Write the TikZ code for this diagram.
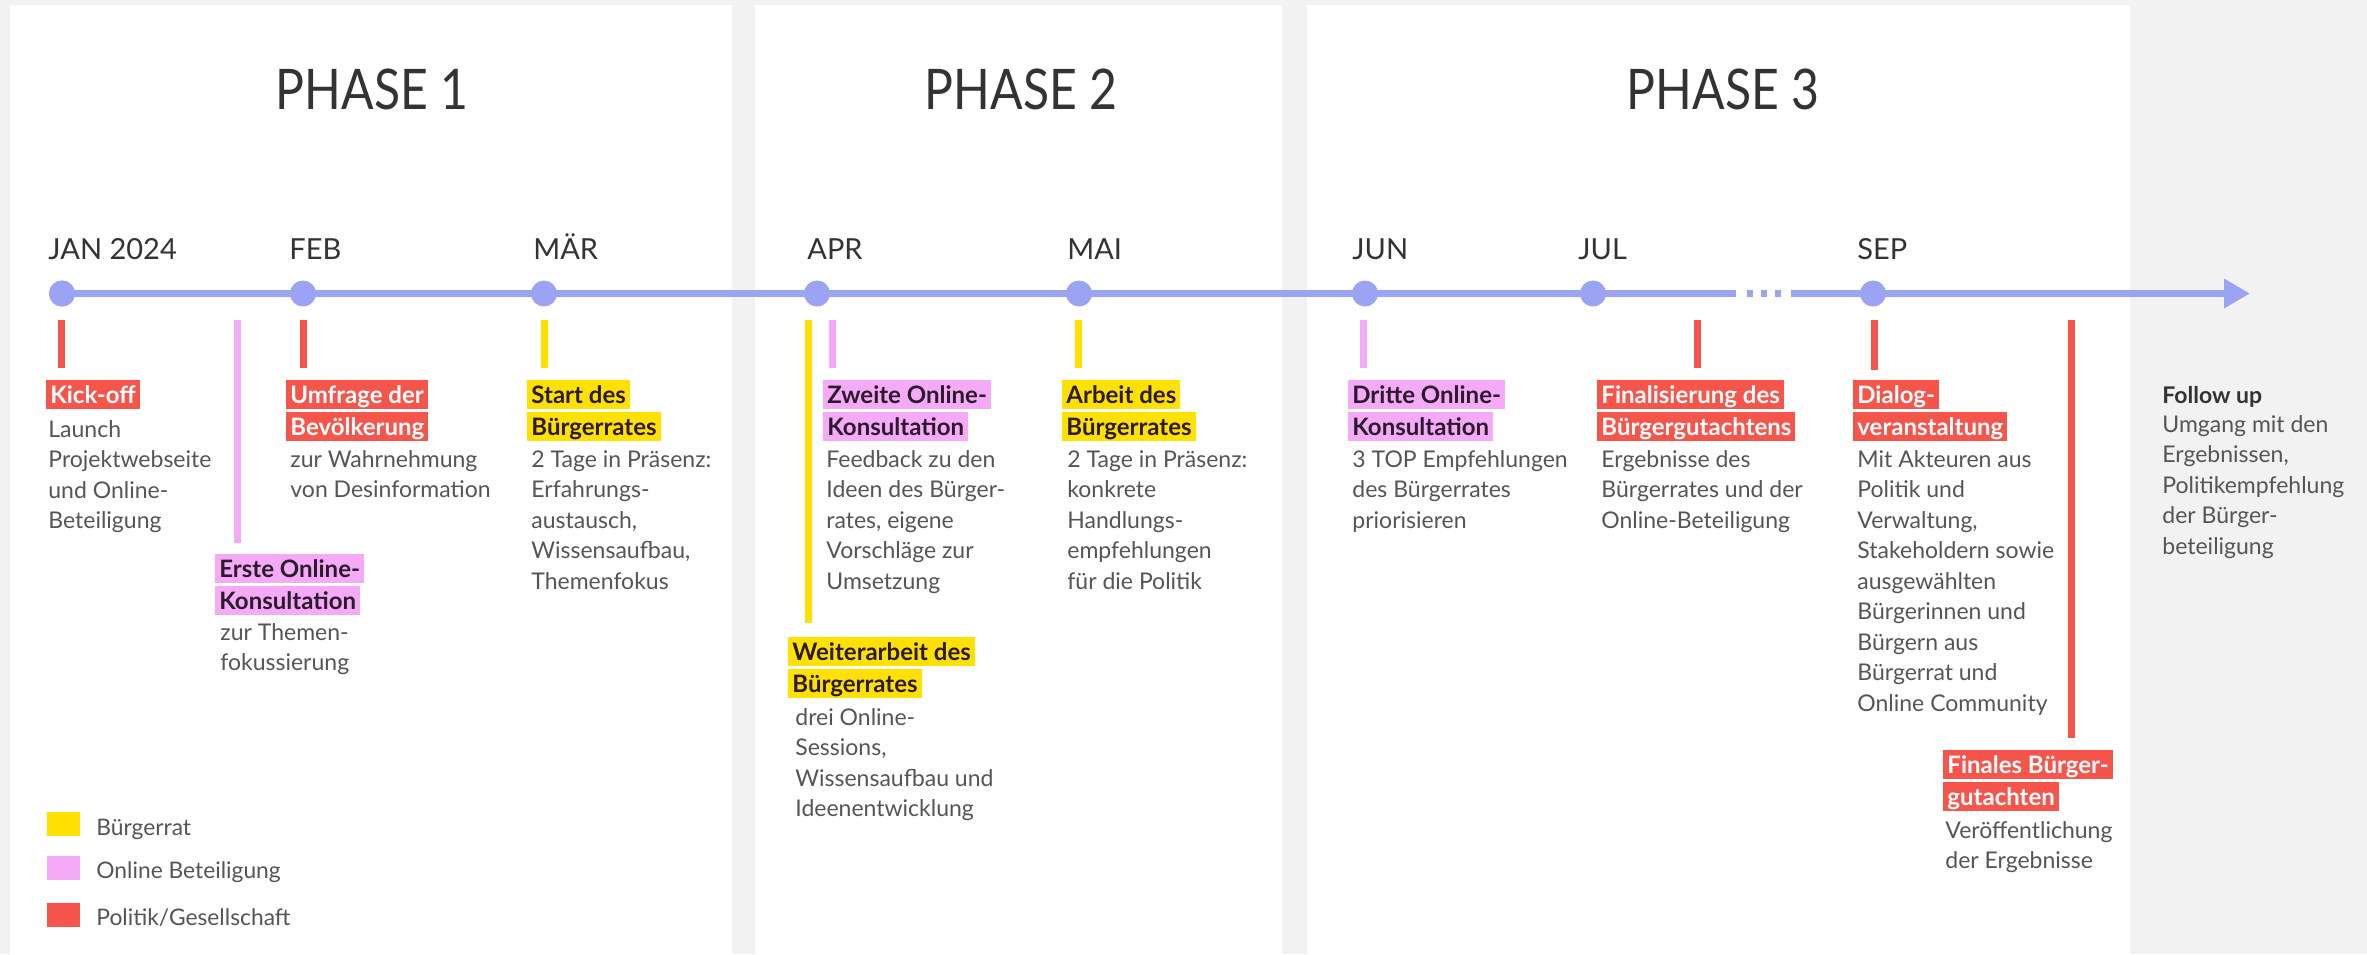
\documentclass[tikz,border=0pt]{standalone}
\usepackage{fontspec}
\setmainfont{Lato}
\newfontfamily\phasefont{Lato}[FakeStretch=0.86]
\usetikzlibrary{arrows.meta}
\definecolor{bggrey}{HTML}{F2F2F2}
\definecolor{tl}{HTML}{9BA3F5}
\definecolor{polred}{HTML}{F5554A}
\definecolor{onpink}{HTML}{F5AAF8}
\definecolor{ratyellow}{HTML}{FFE100}
\definecolor{darktxt}{HTML}{333333}
\definecolor{desctxt}{HTML}{555555}
\definecolor{labdark}{HTML}{2B1A2B}
\newcommand{\descstrut}{\rule{0pt}{11pt}}
\tikzset{
  panel/.style={fill=white, draw=none},
  phase/.style={anchor=base, inner sep=0pt, font=\phasefont\fontsize{28}{32}\selectfont, text=darktxt},
  month/.style={anchor=base west, inner sep=0pt, font=\fontsize{14.5}{17}\selectfont, text=darktxt},
  mdot/.style={circle, fill=tl, minimum size=13pt, inner sep=0pt},
  tline/.style={draw=tl, line width=3.5pt},
  tick/.style={line width=3.5pt},
  lab/.style={anchor=north west, inner xsep=2pt, inner ysep=0pt, text height=11.5pt, text depth=3pt, font=\fontsize{12}{14}\selectfont\bfseries},
  labred/.style={lab, fill=polred, text=white},
  labpink/.style={lab, fill=onpink, text=labdark},
  labyel/.style={lab, fill=ratyellow, text=labdark},
  desc/.style={anchor=north west, inner sep=0pt, align=left, font=\fontsize{11.5}{15.25}\selectfont, text=desctxt},
  followhead/.style={anchor=base west, inner sep=0pt, font=\fontsize{11.5}{14}\selectfont\bfseries, text=darktxt},
  legbox/.style={anchor=north west, minimum width=16.5pt, minimum height=12pt, inner sep=0pt},
  legtxt/.style={anchor=base west, inner sep=0pt, font=\fontsize{11.4}{13}\selectfont, text=desctxt},
}
\begin{document}
\begin{tikzpicture}[x=0.5pt,y=-0.5pt]
\useasboundingbox (0,0) rectangle (2367,954);
\fill[bggrey] (0,0) rectangle (2367,954);
% panels
\fill[panel] (10,5) rectangle (732,954);
\fill[panel] (755,5) rectangle (1282,954);
\fill[panel] (1307,5) rectangle (2130,954);
% phase headings
\node[phase] (ph1) at (372,109) {PHASE 1};
\node[phase] (ph2) at (1021,109) {PHASE 2};
\node[phase] (ph3) at (1723,109) {PHASE 3};
% month labels
\node[month] (mjan) at (48,259) {JAN 2024};
\node[month] (mfeb) at (289,259) {FEB};
\node[month] (mmar) at (533,259) {MÄR};
\node[month] (mapr) at (807,259) {APR};
\node[month] (mmai) at (1067,259) {MAI};
\node[month] (mjun) at (1352,259) {JUN};
\node[month] (mjul) at (1578,259) {JUL};
\node[month] (msep) at (1857,259) {SEP};
% timeline
\coordinate (brkA) at (1736,293.5);
\coordinate (dotA) at (1747,293.5);
\coordinate (dotB) at (1784,293.5);
\coordinate (brkB) at (1791,293.5);
\coordinate (tip) at (2250,293.5);
\node[mdot] (jan) at (62,293.5) {};
\draw[tline] (jan.center) -- (brkA);
\draw[tline, dash pattern=on 3pt off 4pt] (dotA) -- (dotB);
\draw[tline, -{Triangle[length=13pt,width=14pt]}] (brkB) -- (tip);
\node[mdot] (jan2) at (62,293.5) {};
\node[mdot] (feb) at (303,293.5) {};
\node[mdot] (mar) at (544,293.5) {};
\node[mdot] (apr) at (817,293.5) {};
\node[mdot] (mai) at (1079,293.5) {};
\node[mdot] (jun) at (1365,293.5) {};
\node[mdot] (jul) at (1593,293.5) {};
\node[mdot] (sep) at (1873,293.5) {};
% ticks
\coordinate (t1a) at (61,320);   \coordinate (t1b) at (61,368);
\coordinate (t2a) at (237,320);  \coordinate (t2b) at (237,543);
\coordinate (t3a) at (303,320);  \coordinate (t3b) at (303,368);
\coordinate (t4a) at (544,320);  \coordinate (t4b) at (544,368);
\coordinate (t5a) at (832,320);  \coordinate (t5b) at (832,368);
\coordinate (t6a) at (808,320);  \coordinate (t6b) at (808,623);
\coordinate (t7a) at (1078,320); \coordinate (t7b) at (1078,368);
\coordinate (t8a) at (1363,320); \coordinate (t8b) at (1363,368);
\coordinate (t9a) at (1697,320); \coordinate (t9b) at (1697,368);
\coordinate (t10a) at (1874,320); \coordinate (t10b) at (1874,370);
\coordinate (t11a) at (2071,320); \coordinate (t11b) at (2071,738);
\draw[tick, polred] (t1a) -- (t1b);
\draw[tick, onpink] (t2a) -- (t2b);
\draw[tick, polred] (t3a) -- (t3b);
\draw[tick, ratyellow] (t4a) -- (t4b);
\draw[tick, onpink] (t5a) -- (t5b);
\draw[tick, ratyellow] (t6a) -- (t6b);
\draw[tick, ratyellow] (t7a) -- (t7b);
\draw[tick, onpink] (t8a) -- (t8b);
\draw[tick, polred] (t9a) -- (t9b);
\draw[tick, polred] (t10a) -- (t10b);
\draw[tick, polred] (t11a) -- (t11b);
% 1 Kick-off
\node[labred] (kick1) at (46,380) {Kick-off};
\node[desc] (kickd) at (48,415) {\descstrut Launch\\Projektwebseite\\und Online-\\Beteiligung};
% 2 Erste Online-Konsultation
\node[labpink] (erste1) at (215,554) {Erste Online-};
\node[labpink] (erste2) at (215,586) {Konsultation};
\node[desc] (ersted) at (220,618) {\descstrut zur Themen-\\fokussierung};
% 3 Umfrage
\node[labred] (umf1) at (286,380) {Umfrage der};
\node[labred] (umf2) at (286,412) {Bevölkerung};
\node[desc] (umfd) at (290,445) {\descstrut zur Wahrnehmung\\von Desinformation};
% 4 Start des Buergerrates
\node[labyel] (start1) at (527,380) {Start des};
\node[labyel] (start2) at (527,412) {Bürgerrates};
\node[desc] (startd) at (531,445) {\descstrut 2 Tage in Präsenz:\\Erfahrungs-\\austausch,\\Wissensaufbau,\\Themenfokus};
% 5 Zweite Online-Konsultation
\node[labpink] (zw1) at (823,380) {Zweite Online-};
\node[labpink] (zw2) at (823,412) {Konsultation};
\node[desc] (zwd) at (826,445) {\descstrut Feedback zu den\\Ideen des Bürger-\\rates, eigene\\Vorschläge zur\\Umsetzung};
% 6 Weiterarbeit
\node[labyel] (wa1) at (788,637) {Weiterarbeit des};
\node[labyel] (wa2) at (788,669) {Bürgerrates};
\node[desc] (wad) at (795,703) {\descstrut drei Online-\\Sessions,\\Wissensaufbau und\\Ideenentwicklung};
% 7 Arbeit des Buergerrates
\node[labyel] (ar1) at (1062,380) {Arbeit des};
\node[labyel] (ar2) at (1062,412) {Bürgerrates};
\node[desc] (ard) at (1067,445) {\descstrut 2 Tage in Präsenz:\\konkrete\\Handlungs-\\empfehlungen\\für die Politik};
% 8 Dritte Online-Konsultation
\node[labpink] (dr1) at (1348,380) {Dritte Online-};
\node[labpink] (dr2) at (1348,412) {Konsultation};
\node[desc] (drd) at (1352,445) {\descstrut 3 TOP Empfehlungen\\des Bürgerrates\\priorisieren};
% 9 Finalisierung
\node[labred] (fi1) at (1597,380) {Finalisierung des};
\node[labred] (fi2) at (1597,412) {Bürgergutachtens};
\node[desc] (fid) at (1601,445) {\descstrut Ergebnisse des\\Bürgerrates und der\\Online-Beteiligung};
% 10 Dialogveranstaltung
\node[labred] (di1) at (1853,380) {Dialog-};
\node[labred] (di2) at (1853,412) {veranstaltung};
\node[desc] (did) at (1857,445) {\descstrut Mit Akteuren aus\\Politik und\\Verwaltung,\\Stakeholdern sowie\\ausgewählten\\Bürgerinnen und\\Bürgern aus\\Bürgerrat und\\Online Community};
% 11 Finales Buergergutachten
\node[labred] (fn1) at (1943,750) {Finales Bürger-};
\node[labred] (fn2) at (1943,782) {gutachten};
\node[desc] (fnd) at (1945,816) {\descstrut Veröffentlichung\\der Ergebnisse};
% 12 Follow up
\node[followhead] (fu) at (2162,403) {Follow up};
\node[desc] (fud) at (2162,410) {\descstrut Umgang mit den\\Ergebnissen,\\Politikempfehlung\\der Bürger-\\beteiligung};
% legend
\node[legbox, fill=ratyellow] (lg1) at (47,812) {};
\node[legbox, fill=onpink] (lg2) at (47,856) {};
\node[legbox, fill=polred] (lg3) at (47,903) {};
\node[legtxt] (lt1) at (96,835) {Bürgerrat};
\node[legtxt] (lt2) at (96,878) {Online Beteiligung};
\node[legtxt] (lt3) at (96,925) {Politik/Gesellschaft};
\end{tikzpicture}
\end{document}
